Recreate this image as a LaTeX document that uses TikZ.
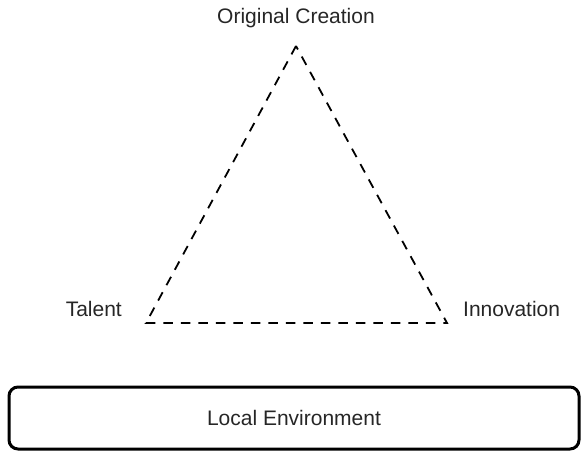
\documentclass[tikz,border=0pt]{standalone}
\usepackage{fontspec}
\setmainfont{Liberation Sans}
\usetikzlibrary{positioning}
\colorlet{mygray}{black!85}
\tikzset{
	tag/.style={
		inner sep=0pt, text=mygray,
		font=\fontsize{21}{25}\selectfont,
	},
	triline/.style={
		draw, line width=1.8pt, dash pattern=on 9.5pt off 8pt,
	},
	basebox/.style={
		rectangle, draw, line width=3pt, rounded corners=9pt,
		minimum width=570pt, minimum height=62pt,
		text height=15pt, text depth=0pt,
		font=\fontsize{21}{25}\selectfont, text=mygray,
	}
}

\begin{document}
\begin{tikzpicture}[x=1pt, y=-1pt]
	\useasboundingbox (0,0) rectangle (581,451);
	% Corners of the triangle
	\coordinate (ctop) at (296,46);
	\coordinate (cleft) at (146,323);
	\coordinate (cright) at (447,323);
	\draw[triline] (ctop) -- (cleft) -- (cright) -- cycle;
	% Labels
	\node [tag, above=17.5pt of ctop] (creation) {Original Creation};
	\node [tag, above left=6pt and 24pt of cleft] (talent) {Talent};
	\node [tag, above right=6pt and 16pt of cright] (innovation) {Innovation};
	% Base
	\node [basebox] (environment) at (294,418) {Local Environment};
\end{tikzpicture}
\end{document}
